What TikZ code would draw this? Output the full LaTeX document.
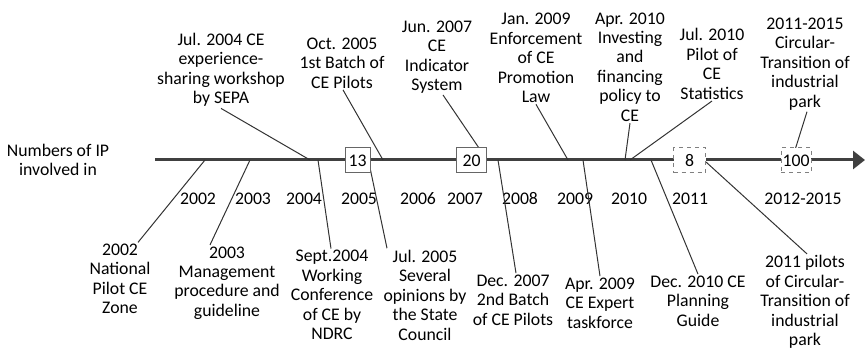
\documentclass[tikz,border=0pt]{standalone}
\usepackage{fontspec}
\setmainfont{Carlito}
\usetikzlibrary{arrows.meta,calc}
\begin{document}
\begin{tikzpicture}[x=0.75pt,y=-0.75pt,
 lbl/.style={align=center,inner sep=1pt,font=\fontsize{13.3pt}{14.6pt}\selectfont,text=black},
 yr/.style={inner sep=0pt,font=\fontsize{13.3pt}{14.6pt}\selectfont,text=black},
 conn/.style={draw=black!80,line width=0.75pt},
 axisline/.style={line width=2.25pt,draw=black!75,-{Triangle[length=9pt,width=13.5pt]}},
 numbox/.style={draw=black!60,fill=white,line width=0.75pt,minimum height=18.75pt,inner sep=0pt,font=\fontsize{13.3pt}{14.6pt}\selectfont},
 dbox/.style={numbox,dashed,draw=black!50}]
\useasboundingbox (0,0) rectangle (865,349);

% axis
\coordinate (ax0) at (155,160);
\coordinate (ax1) at (865,160);
\draw[axisline] (ax0) -- (ax1);

% left label
\node[lbl] (left) at (58,160) {Numbers of IP\\involved in};

% axis points
\coordinate (p1) at (310,160);
\coordinate (p2) at (383,160);
\coordinate (p4) at (568,160);
\coordinate (p5) at (625,160);
\coordinate (p6) at (630,160);
\coordinate (q1) at (205,160);
\coordinate (q2) at (250,160);
\coordinate (q3) at (318,160);
\coordinate (q5) at (498,160);
\coordinate (q6) at (583,160);
\coordinate (q7) at (651,160);

% top labels
\node[lbl] (t1) at (221,70) {Jul. 2004 CE\\experience-\\sharing workshop\\by SEPA};
\node[lbl] (t2) at (342,63) {Oct. 2005\\1st Batch of\\CE Pilots};
\node[lbl] (t3) at (437,57) {Jun. 2007\\CE\\Indicator\\System};
\node[lbl] (t4) at (536,58) {Jan. 2009\\Enforcement\\of CE\\Promotion\\Law};
\node[lbl] (t5) at (630,67) {Apr. 2010\\Investing\\and\\financing\\policy to\\CE};
\node[lbl] (t6) at (712,64) {Jul. 2010\\Pilot of\\CE\\Statistics};
\node[lbl] (t7) at (805,64) {2011-2015\\Circular-\\Transition of\\industrial\\park};

% bottom labels
\node[lbl] (b1) at (120,279) {2002\\National\\Pilot CE\\Zone};
\node[lbl] (b2) at (227,283) {2003\\Management\\procedure and\\guideline};
\node[lbl] (b3) at (332,295) {Sept.2004\\Working\\Conference\\of CE by\\NDRC};
\node[lbl] (b4) at (425,295) {Jul. 2005\\Several\\opinions by\\the State\\Council};
\node[lbl] (b5) at (513,300) {Dec. 2007\\2nd Batch\\of CE Pilots};
\node[lbl] (b6) at (600,303) {Apr. 2009\\CE Expert\\taskforce};
\node[lbl] (b7) at (698,301) {Dec. 2010 CE\\Planning\\Guide};
\node[lbl] (b8) at (805,302) {2011 pilots\\of Circular-\\Transition of\\industrial\\park};

% year labels
\node[yr] (y02) at (198,199) {2002};
\node[yr] (y03) at (253,199) {2003};
\node[yr] (y04) at (304,199) {2004};
\node[yr] (y05) at (359,199) {2005};
\node[yr] (y06) at (418,199) {2006};
\node[yr] (y07) at (465,199) {2007};
\node[yr] (y08) at (520,199) {2008};
\node[yr] (y09) at (575,199) {2009};
\node[yr] (y10) at (629,199) {2010};
\node[yr] (y11) at (690,199) {2011};
\node[yr] (y12) at (803,199) {2012-2015};

% boxes (positions for connectors)
\path (357.5,160.5) coordinate (c13) (471.5,160.5) coordinate (c20)
      (689.5,160.5) coordinate (c8) (796,160.5) coordinate (c100);

% connectors top
\draw[conn] (t1.south) -- (p1);
\draw[conn] ($(t2.south)+(1,0)$) -- (p2);
\draw[conn] ($(t3.south)+(6,0)$) -- (481,151);
\draw[conn] (t4.south) -- (p4);
\draw[conn] (t5.south) -- (p5);
\draw[conn] (t6.south) -- (p6);
\draw[conn] ($(t7.south)+(2,0)$) -- (795,150);

% connectors bottom
\draw[conn] ($(b1.north)+(18,0)$) -- (q1);
\draw[conn] ($(b2.north)+(-17,0)$) -- (q2);
\draw[conn] ($(b3.north)+(-1,0)$) -- (q3);
\draw[conn] ($(b4.north)+(-38,0)$) -- (369,163);
\draw[conn] ($(b5.north)+(3,0)$) -- (q5);
\draw[conn] (b6.north) -- (q6);
\draw[conn] (b7.north) -- (q7);
\draw[conn] ($(b8.north)+(2,0)$) -- (706,162);

% number boxes
\node[numbox,minimum width=18.75pt] (box13) at (c13) {13};
\node[numbox,minimum width=22.5pt] (box20) at (c20) {20};
\node[dbox,minimum width=24pt] (box8) at (c8) {8};
\node[dbox,minimum width=22.5pt] (box100) at (c100) {100};
\end{tikzpicture}
\end{document}
